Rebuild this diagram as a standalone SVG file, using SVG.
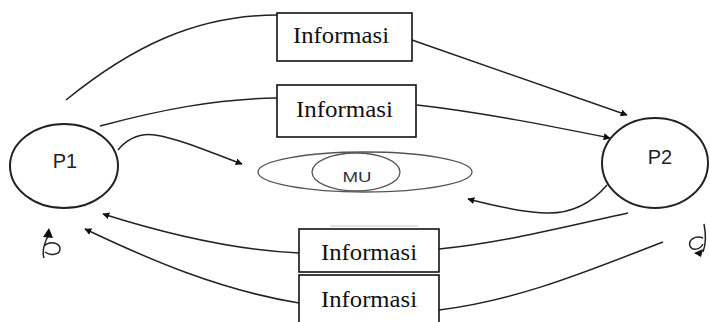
<svg xmlns="http://www.w3.org/2000/svg" width="710" height="322" viewBox="0 0 710 322">
<defs>
<style>
.box{fill:#fff;stroke:#111;stroke-width:1.6}
.lbl{font-family:"Liberation Serif",serif;font-size:23px;fill:#111}
.node{fill:#fff;stroke:#222;stroke-width:2}
.ntx{font-family:"Liberation Sans",Arial,sans-serif;font-size:20px;fill:#222;text-anchor:middle}
.mu{fill:none;stroke:#555;stroke-width:1.3}
.con{fill:none;stroke:#222;stroke-width:1.5}
.arr{marker-end:url(#ah)}
</style>
<marker id="ah" viewBox="0 0 10 10" refX="9" refY="5" markerWidth="7" markerHeight="7" markerUnits="userSpaceOnUse" orient="auto">
<path d="M0,0 L10,5 L0,10 z" fill="#111"/>
</marker>
</defs>
<rect width="710" height="322" fill="#fff"/>

<g id="connectors">
<path class="con" d="M66,100 C130,48 195,15 277,15"/>
<path class="con arr" d="M412,40 L627,115"/>
<path class="con" d="M100,126 C160,110 215,99 277,98"/>
<path class="con arr" d="M417,105 C480,112 550,126 610,138"/>
<path class="con arr" d="M118,150 C128,138 140,133 155,135 C180,139 210,152 242,164"/>
<path class="con arr" d="M607,185 C590,205 570,214 545,213 C520,212 495,206 468,199"/>
<path class="con" d="M628,213 C560,228 500,243 439,249"/>
<path class="con arr" d="M299,253 C230,250 160,232 103,214"/>
<path class="con" d="M663,242 C590,270 520,300 439,310"/>
<path class="con arr" d="M299,303 C220,290 150,260 85,229"/>
<line x1="330" y1="226" x2="418" y2="226" stroke="#ccc" stroke-width="1.2"/>
</g>

<g id="box1">
<rect class="box" x="277" y="13" width="135" height="48"/>
<text class="lbl" x="293" y="43" textLength="96" lengthAdjust="spacingAndGlyphs">Informasi</text>
</g>
<g id="box2">
<rect class="box" x="277" y="85" width="139" height="52"/>
<text class="lbl" x="296" y="117" textLength="97" lengthAdjust="spacingAndGlyphs">Informasi</text>
</g>
<g id="box3">
<rect class="box" x="299" y="229" width="140" height="43"/>
<text class="lbl" x="321" y="260" textLength="96" lengthAdjust="spacingAndGlyphs">Informasi</text>
</g>
<g id="box4">
<rect class="box" x="299" y="275" width="140" height="52"/>
<text class="lbl" x="321" y="307" textLength="96" lengthAdjust="spacingAndGlyphs">Informasi</text>
</g>

<g id="P1">
<ellipse class="node" cx="64" cy="166" rx="54" ry="42"/>
<text class="ntx" x="65" y="168">P1</text>
</g>
<g id="P2">
<ellipse class="node" cx="655" cy="163" rx="53" ry="45"/>
<text class="ntx" x="660" y="164">P2</text>
</g>
<g id="MU">
<ellipse class="mu" cx="365" cy="172" rx="107" ry="20"/>
<ellipse class="mu" cx="356" cy="172" rx="44" ry="19"/>
<text x="357" y="182" font-family="'Liberation Sans',Arial,sans-serif" font-size="15" fill="#333" text-anchor="middle" textLength="29" lengthAdjust="spacingAndGlyphs">MU</text>
</g>

<g id="loop-left">
<path class="con" d="M48,236 C44,244 42,252 44,258 M44,246 C50,240 60,243 60,249 C60,255 50,256 45,252"/>
<path d="M43,237 L49,228 L53,238 z" fill="#111"/>
</g>
<g id="loop-right">
<path class="con" d="M704,224 C706,234 706,244 703,252 M703,238 C695,235 688,240 690,246 C692,251 700,250 703,244"/>
<path d="M703,249 L694,253 L701,257 z" fill="#111"/>
</g>
</svg>
